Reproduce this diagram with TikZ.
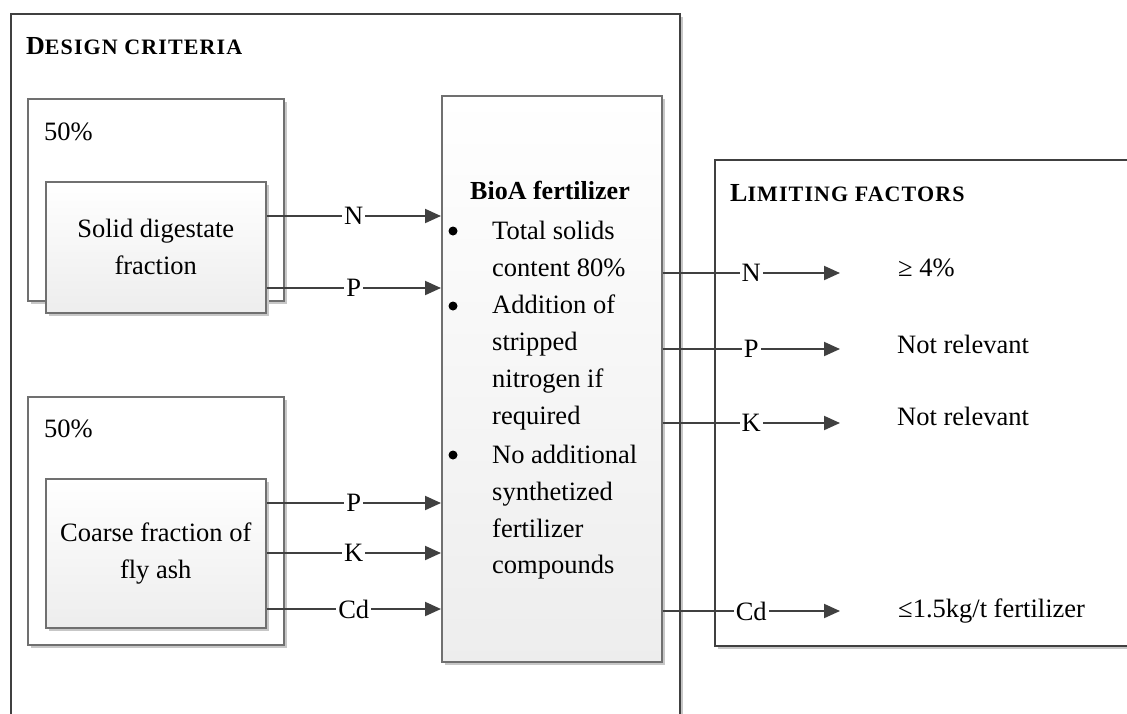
\documentclass[tikz,border=0pt]{standalone}
\usepackage{fontspec}
\setmainfont{Liberation Serif}
\usetikzlibrary{arrows.meta,shadows}
\definecolor{ink}{HTML}{404040}
\definecolor{rim}{HTML}{707070}
\begin{document}
\begin{tikzpicture}[x=1pt,y=-1pt,
  every node/.style={font=\fontsize{26.5}{37}\selectfont, text=black},
  shade3/.style={drop shadow={shadow xshift=3pt, shadow yshift=-3pt, fill=black!22, opacity=1}},
  frame/.style={draw=ink, line width=2.2pt, fill=white, anchor=north west, inner sep=0pt, shade3},
  group/.style={draw=rim, line width=1.5pt, fill=white, anchor=north west, inner sep=0pt, shade3},
  srcbox/.style={draw=rim, line width=1.5pt, top color=white, bottom color=black!7,
    anchor=north west, align=center, inner sep=0pt, shade3},
  flow/.style={draw=ink, line width=2pt, -{Triangle[length=16pt,width=14pt]}},
  lbl/.style={fill=white, inner xsep=2pt, inner ysep=0pt},
  txt/.style={anchor=base west, inner sep=0pt},
  dot/.style={circle, fill=black, inner sep=0pt, minimum size=9pt},
  heading/.style={anchor=base west, inner sep=0pt,
    font=\fontsize{26}{30}\selectfont\bfseries\addfontfeatures{LetterSpace=5}},
]
\useasboundingbox (0,0) rectangle (1127,713);
\clip (0,0) rectangle (1127,713);

% outer frames (open at the page edges)
\node[frame, minimum width=669, minimum height=760] (dc) at (9.5,12.5) {};
\node[frame, minimum width=460, minimum height=486] (lf) at (714,159) {};

\node[heading] (dct) at (26,54) {D{\fontsize{22}{26}\selectfont ESIGN CRITERIA}};
\node[heading] (lft) at (730,201) {L{\fontsize{22}{26}\selectfont IMITING FACTORS}};

% input groups
\node[group, minimum width=256, minimum height=202] (g1) at (27,98) {};
\node[txt] (g1t) at (44,140) {50\%};
\node[srcbox, minimum width=220, minimum height=131] (sd) at (45,181) {Solid digestate\\fraction};

\node[group, minimum width=256, minimum height=248] (g2) at (27,396) {};
\node[txt] (g2t) at (44,437) {50\%};
\node[srcbox, minimum width=220, minimum height=149] (fa) at (45,478) {Coarse fraction of\\fly ash};

% product box
\node[srcbox, minimum width=220, minimum height=566] (bio) at (441,95) {};
\node[anchor=base, inner sep=0pt, font=\fontsize{26}{37}\selectfont\bfseries] (biot) at (550,199) {BioA fertilizer};
\node[dot] (b1) at (453,231) {};
\node[dot] (b2) at (453,306) {};
\node[dot] (b3) at (453,455) {};
\foreach \s/\y [count=\i] in {Total solids/239, content 80\%/276, Addition of/313, stripped/350,
    nitrogen if/387, required/424, No additional/463, synthetized/500, fertilizer/537, compounds/573}
  \node[txt] (bl\i) at (492,\y) {\s};

% inputs
\draw[flow] (sd.east |- 0,216) -- (bio.west |- 0,216) node[lbl, midway] {N};
\draw[flow] (sd.east |- 0,288) -- (bio.west |- 0,288) node[lbl, midway] {P};
\draw[flow] (fa.east |- 0,503) -- (bio.west |- 0,503) node[lbl, midway] {P};
\draw[flow] (fa.east |- 0,553) -- (bio.west |- 0,553) node[lbl, midway] {K};
\draw[flow] (fa.east |- 0,609) -- (bio.west |- 0,609) node[lbl, midway] {Cd};

% limiting factors
\coordinate (eN) at (840,273);
\coordinate (eP) at (840,349);
\coordinate (eK) at (840,423);
\coordinate (eC) at (840,611);
\draw[flow] (bio.east |- eN) -- (eN) node[lbl, midway] {N};
\draw[flow] (bio.east |- eP) -- (eP) node[lbl, midway] {P};
\draw[flow] (bio.east |- eK) -- (eK) node[lbl, midway] {K};
\draw[flow] (bio.east |- eC) -- (eC) node[lbl, midway] {Cd};

\node[txt] (rN) at (898,276) {≥ 4\%};
\node[txt] (rP) at (897,353) {Not relevant};
\node[txt] (rK) at (897,425) {Not relevant};
\node[txt] (rC) at (898,617) {≤1.5kg/t fertilizer};
\end{tikzpicture}
\end{document}
